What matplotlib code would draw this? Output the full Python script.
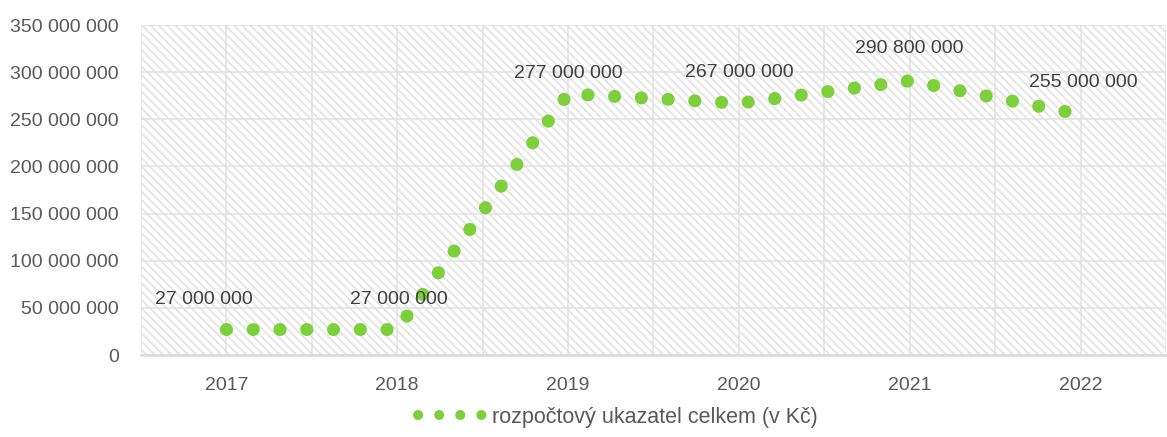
import matplotlib
matplotlib.use("Agg")
import matplotlib.pyplot as plt
from matplotlib.patches import Rectangle
from matplotlib.lines import Line2D

plt.rcParams['font.family'] = ['Liberation Sans', 'DejaVu Sans']
plt.rcParams['hatch.linewidth'] = 1.4

# ---------- DATA ----------
years = ['2017', '2018', '2019', '2020', '2021', '2022']
budget = [27_000_000, 27_000_000, 277_000_000, 267_000_000, 290_800_000, 255_000_000]
series_name = 'rozpočtový ukazatel celkem (v Kč)'
y_ticks = [0, 50_000_000, 100_000_000, 150_000_000, 200_000_000,
           250_000_000, 300_000_000, 350_000_000]

# label offsets (points) for the data labels
label_dx = [-16, 1, 0, 0, 0, 2]
label_dy = [21.5, 21.5, 14.5, 22, 23, 23]

GREEN = '#7dcf3b'
TEXT = '#595959'
LABEL = '#404040'
FS = 14


def fmt(v):
    return f"{int(v):,}".replace(',', ' ')


fig = plt.figure(figsize=(11.67, 4.37), dpi=100)
ax = fig.add_axes([141 / 1167, 1 - 355 / 437, 1025 / 1167, 330 / 437])

# hatched plot background
ax.set_facecolor('white')
ax.add_patch(Rectangle((0, 0), 1, 1, transform=ax.transAxes, facecolor='white',
                       edgecolor='#e6e6e6', hatch='\\\\\\\\', lw=0, zorder=0))

x = list(range(len(years)))
ax.plot(x, budget, color=GREEN, lw=9.4, linestyle=(0, (0.01, 2.04)),
        dash_capstyle='round', zorder=2)

for i, v in enumerate(budget):
    ax.annotate(fmt(v), (x[i], v), xytext=(label_dx[i], label_dy[i]),
                textcoords='offset points', ha='center', va='center',
                fontsize=FS, color=LABEL, zorder=3)

ax.set_xlim(-0.5, len(years) - 0.5)
ax.set_ylim(0, 350_000_000)
ax.set_xticks(x)
ax.set_xticklabels(years)
ax.set_xticks([i - 0.5 for i in range(len(years) + 1)], minor=True)
ax.set_yticks(y_ticks)
ax.set_yticklabels([fmt(t) for t in y_ticks])

ax.set_axisbelow(True)
ax.grid(True, axis='y', color='#e2e2e2', lw=1.1)
ax.grid(True, axis='x', which='both', color='#e2e2e2', lw=1.1)

ax.tick_params(axis='both', which='both', length=0, labelsize=FS, labelcolor=TEXT)
ax.tick_params(axis='y', pad=15.8)
ax.tick_params(axis='x', pad=15.5)

for s in ['left', 'right', 'top']:
    ax.spines[s].set_visible(False)
ax.spines['bottom'].set_color('#d9d9d9')
ax.spines['bottom'].set_linewidth(1.8)

handle = Line2D([], [], color=GREEN, lw=7.2, linestyle=(0, (0.01, 2.1)),
                dash_capstyle='round')
leg = fig.legend([handle], [series_name], loc='center',
                 bbox_to_anchor=(618 / 1167, 1 - 417 / 437), frameon=False,
                 fontsize=15.5, handlelength=2.97, handletextpad=0.45,
                 borderpad=0, borderaxespad=0)
for t in leg.get_texts():
    t.set_color(TEXT)

fig.savefig('out.png', dpi=100)
